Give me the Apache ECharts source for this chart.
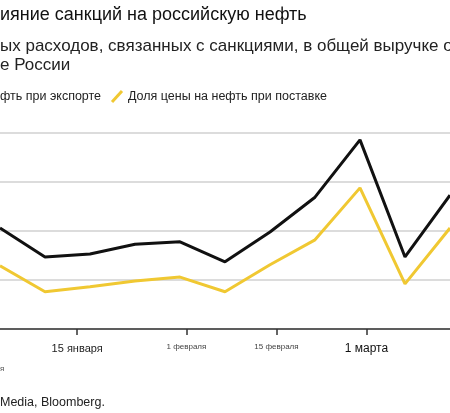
<!DOCTYPE html><html><head><meta charset="utf-8">
<script src="https://cdn.jsdelivr.net/npm/echarts@6/dist/echarts.min.js"></script>
<style>html,body{margin:0;padding:0;background:#fff}#c{width:450px;height:413px}</style></head>
<body><div id="c"></div><script>
// day of year (Jan 1 = 0)
const days = [2, 9, 16, 23, 30, 37, 44, 51, 58, 65, 72];
const exportShare = [20.6, 14.7, 15.3, 17.3, 17.8, 13.7, 19.8, 26.9, 38.6, 14.7, 27.3];
const deliveryShare = [12.9, 7.6, 8.6, 9.8, 10.6, 7.6, 13.1, 18.2, 28.8, 9.2, 20.6];
const tickDays = [14, 31, 45, 59];
const tickLabels = ['15 января', '1 февраля', '15 февраля', '1 марта'];
const tickStyles = ['a', 'b', 'b', 'c'];

const chart = echarts.init(document.getElementById('c'));
const F = 'Liberation Sans, Arial, sans-serif';
chart.setOption({
  animation: false,
  grid: {left: 0, right: 0, top: 133, bottom: 84},
  xAxis: {
    type: 'value', min: 2, max: 72,
    splitLine: {show: false},
    axisLine: {lineStyle: {color: '#333', width: 1.5}},
    axisTick: {show: true, customValues: tickDays, length: 6, inside: false, lineStyle: {color: '#333', width: 1.5}},
    axisLabel: {
      customValues: tickDays, margin: 14,
      formatter: v => { const i = tickDays.indexOf(v); return '{' + tickStyles[i] + '|' + tickLabels[i] + '}'; },
      rich: {
        a: {fontSize: 11, color: '#222', fontFamily: F},
        b: {fontSize: 8, color: '#444', fontFamily: F},
        c: {fontSize: 12, color: '#111', fontFamily: F}
      }
    }
  },
  yAxis: {
    type: 'value', min: 0, max: 40, interval: 10,
    axisLabel: {show: false}, axisLine: {show: false}, axisTick: {show: false},
    splitLine: {lineStyle: {color: '#d0d0d0', width: 1.5}}
  },
  series: [
    {type: 'line', data: days.map((d, i) => [d, exportShare[i]]), symbol: 'none',
     lineStyle: {color: '#111', width: 3}},
    {type: 'line', data: days.map((d, i) => [d, deliveryShare[i]]), symbol: 'none',
     lineStyle: {color: '#f0c832', width: 3}}
  ],
  graphic: [
    {type: 'text', left: 0, top: 6, style: {text: 'ияние санкций на российскую нефть', fontSize: 18, fill: '#111', fontFamily: F}},
    {type: 'text', left: 0, top: 38, style: {text: 'ых расходов, связанных с санкциями, в общей выручке о', fontSize: 17, fill: '#222', fontFamily: F}},
    {type: 'text', left: 0, top: 57, style: {text: 'е России', fontSize: 17, fill: '#222', fontFamily: F}},
    {type: 'text', left: 0, top: 90, style: {text: 'фть при экспорте', fontSize: 12.5, fill: '#222', fontFamily: F}},
    {type: 'line', shape: {x1: 112, y1: 102, x2: 122, y2: 91}, style: {stroke: '#f0c832', lineWidth: 3}},
    {type: 'text', left: 128, top: 90, style: {text: 'Доля цены на нефть при поставке', fontSize: 12.5, fill: '#222', fontFamily: F}},
    {type: 'text', left: 0, top: 365, style: {text: 'я', fontSize: 8, fill: '#555', fontFamily: F}},
    {type: 'text', left: 0, top: 396, style: {text: 'Media, Bloomberg.', fontSize: 12.5, fill: '#222', fontFamily: F}}
  ]
});
</script></body></html>
